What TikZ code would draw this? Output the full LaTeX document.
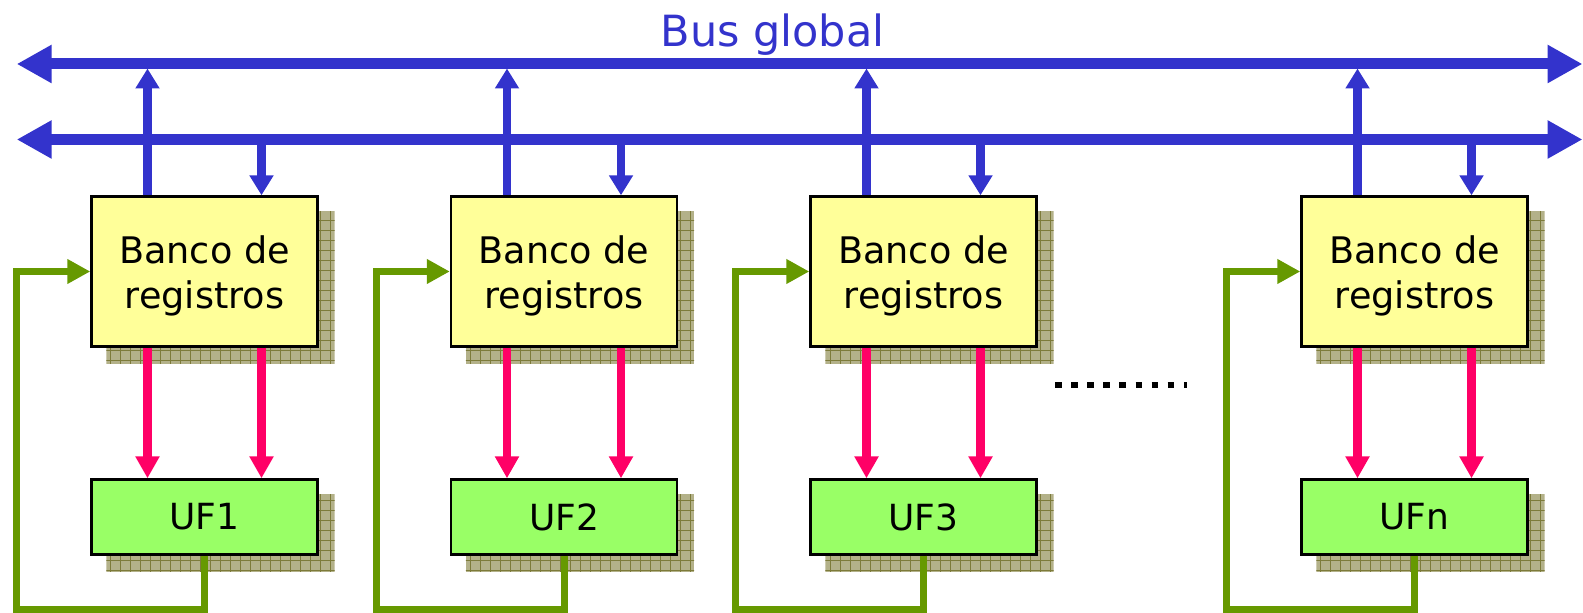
\documentclass[tikz,border=0pt]{standalone}
\usepackage{fontspec}
\setmainfont{DejaVu Sans}
\usetikzlibrary{arrows.meta,backgrounds}
\definecolor{busblue}{HTML}{3333CC}
\definecolor{datapink}{HTML}{FF0066}
\definecolor{loopgreen}{HTML}{669900}
\definecolor{bankfill}{HTML}{FFFF99}
\definecolor{fufill}{HTML}{99FF66}
\definecolor{shadowfill}{HTML}{B3B189}
\definecolor{shadowline}{HTML}{7D7B3A}
\begin{document}
\begin{tikzpicture}[x=0.5pt,y=-0.5pt,
  bank/.style={draw=black, line width=1.2pt, fill=bankfill,
    minimum width=113pt, minimum height=75pt, inner sep=0pt},
  fu/.style={draw=black, line width=1.2pt, fill=fufill,
    minimum width=113pt, minimum height=37.5pt, inner sep=0pt,
    font=\fontsize{18}{22}\selectfont},
  banktext/.style={font=\fontsize{18.3}{22.5}\selectfont, align=center, inner sep=0pt},
  buslabel/.style={font=\fontsize{21.5}{26}\selectfont, text=busblue, inner sep=0pt},
  bus/.style={draw=busblue, line width=5.5pt,
    {Triangle[length=17.5pt,width=18pt]}-{Triangle[length=17.5pt,width=18pt]}},
  tap/.style={draw=busblue, line width=4.2pt, -{Triangle[length=10pt,width=11.5pt]}},
  data/.style={draw=datapink, line width=4.2pt, -{Triangle[length=11pt,width=11.5pt]}},
  feedback/.style={draw=loopgreen, line width=3.5pt, line join=miter,
    -{Triangle[length=11.5pt,width=11.7pt]}},
  shadowgrid/.style={draw=shadowline, line width=0.45pt},
  ellipsisdots/.style={draw=black, line width=3.25pt, dash pattern=on 3.25pt off 4.8pt}
]
\useasboundingbox (0,0) rectangle (1583,613);

% the two global buses
\coordinate (busAL) at (16.7,64);
\coordinate (busAR) at (1582.5,64);
\coordinate (busBL) at (16.7,139.5);
\coordinate (busBR) at (1582.5,139.5);
\coordinate (busAedge) at (0,68.5);
\draw[bus] (busAL) -- (busAR);
\draw[bus] (busBL) -- (busBR);
\node[buslabel, anchor=base] (title) at (772.5,46.7) {Bus global};

% register banks and functional units
\foreach \i/\cx/\lbl in {1/204.5/UF1, 2/564/UF2, 3/923.5/UF3, 4/1414.5/UFn} {
  \node[bank] (b\i) at (\cx,271.5) {};
  \node[banktext] (bt\i) at (\cx,276.2) {Banco de\\registros};
  \node[fu] (u\i) at (\cx,517) {\lbl};
  \coordinate (g\i) at (\cx-188,609);

  % drop shadows with a grid texture
  \begin{pgfonlayer}{background}
    \foreach \n in {b\i,u\i} {
      \begin{scope}
        \clip ([shift={(8pt,-8pt)}]\n.south west) rectangle ([shift={(8pt,-8pt)}]\n.north east);
        \fill[shadowfill] ([shift={(8pt,-8pt)}]\n.south west) rectangle ([shift={(8pt,-8pt)}]\n.north east);
        \draw[shadowgrid, step=5pt] (0,0) grid (1583,613);
      \end{scope}
    }
  \end{pgfonlayer}

  % bank <-> bus connections
  \draw[tap] ([xshift=-28.5pt]b\i.north) -- ([xshift=-28.5pt]b\i.north |- busAedge);
  \draw[tap] ([xshift=28.5pt]b\i.north |- busBL) -- ([xshift=28.5pt]b\i.north);

  % operands from bank to unit
  \draw[data] ([xshift=-28.5pt]b\i.south) -- ([xshift=-28.5pt]u\i.north);
  \draw[data] ([xshift=28.5pt]b\i.south) -- ([xshift=28.5pt]u\i.north);

  % result written back to the bank
  \draw[feedback] (u\i.south) |- (g\i) |- (b\i.west);
}

% ellipsis between the third and last unit
\coordinate (dotsL) at (1055,385);
\coordinate (dotsR) at (1187,385);
\draw[ellipsisdots] (dotsL) -- (dotsR);
\end{tikzpicture}
\end{document}
